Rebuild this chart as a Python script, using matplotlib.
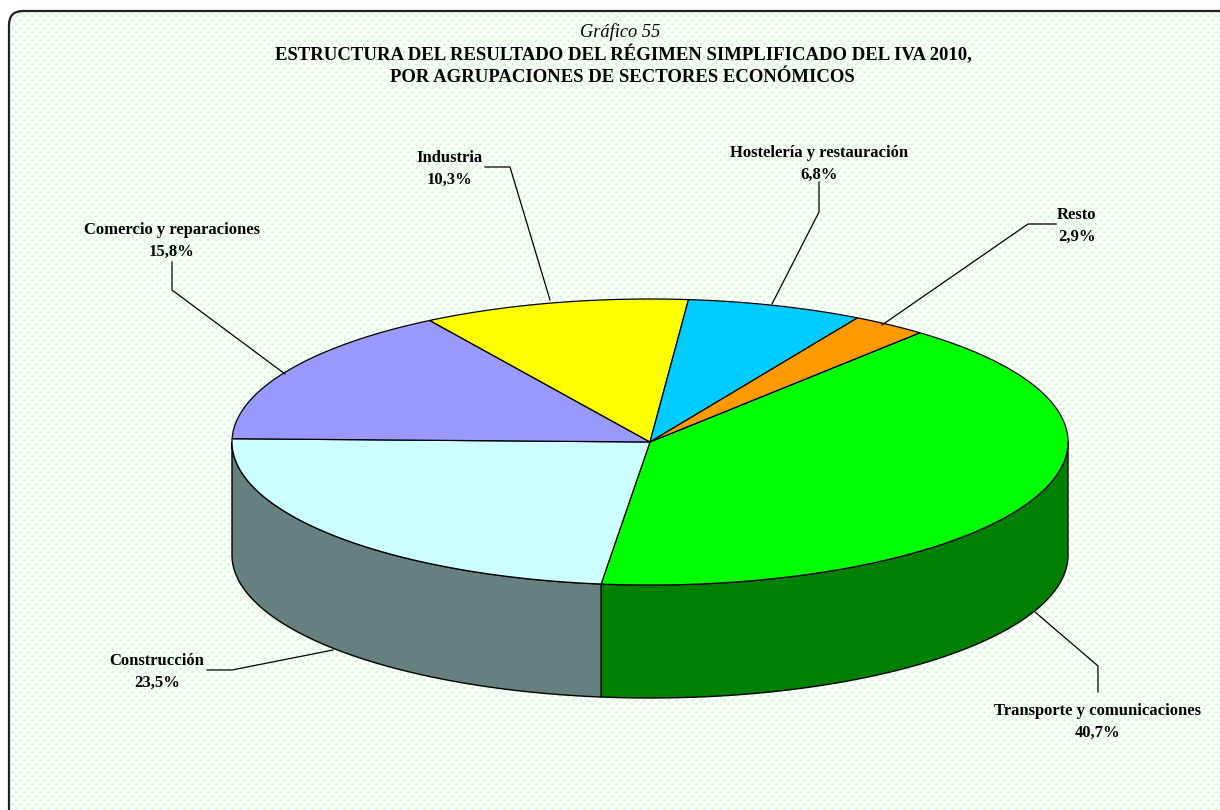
# Grafico 55 - IVA 2010, pseudo 3D pie
import numpy as np
import matplotlib
matplotlib.use('Agg')
import matplotlib.pyplot as plt
from matplotlib.patches import Polygon, FancyBboxPatch

# Data
labels = ['Transporte y comunicaciones', 'Construcción', 'Comercio y reparaciones',
          'Industria', 'Hostelería y restauración', 'Resto']
values = [40.7, 23.5, 15.8, 10.3, 6.8, 2.9]
values_txt = ['40,7%', '23,5%', '15,8%', '10,3%', '6,8%', '2,9%']
top_colors = ['#00FF00', '#CCFFFF', '#9999FF', '#FFFF00', '#00CCFF', '#FF9900']
side_colors = ['#008000', '#668080', None, None, None, None]

# Label centres and leader lines, in pixels
label_pos = [(1098, 722), (157, 672), (172, 241), (449, 169), (819, 164), (1077, 226)]
leaders = [[(1098, 692), (1098, 666), (1035, 612)],
           [(207, 670), (232, 670), (333, 650)],
           [(172, 262), (172, 290), (285, 374)],
           [(485, 167), (510, 167), (550, 300)],
           [(819, 182), (819, 212), (772, 304)],
           [(1056, 224), (1028, 224), (882, 325)]]

# Pie geometry
cx, cy = 650, 442
rx, ry = 418, 143
depth = 113
start = 49.8

W, H = 1220, 810
plt.rcParams['font.family'] = ['Liberation Serif', 'DejaVu Serif']

fig = plt.figure(figsize=(W / 100, H / 100), dpi=100)
ax = fig.add_axes([0, 0, 1, 1])
ax.set_xlim(0, W)
ax.set_ylim(H, 0)
ax.axis('off')

# Frame with dotted background
frame = FancyBboxPatch((9, 11), W + 40, H + 40, boxstyle='round,pad=0,rounding_size=14',
                       fc='white', ec='none', zorder=1)
ax.add_patch(frame)
gx, gy = np.meshgrid(np.arange(0, W, 8), np.arange(0, H, 8))
dots = np.c_[np.r_[gx.ravel(), gx.ravel() + 4], np.r_[gy.ravel(), gy.ravel() + 4]]
bg = ax.scatter(dots[:, 0], dots[:, 1], s=6, color='#D0FFD0', lw=0, zorder=1.5)
bg.set_clip_path(frame)
ax.add_patch(FancyBboxPatch((9, 11), W + 40, H + 40, boxstyle='round,pad=0,rounding_size=14',
                            fc='none', ec='#222222', lw=1.6, zorder=2))


def rim(a0, a1, n=200):
    t = np.radians(np.linspace(a0, a1, n))
    return np.c_[cx + rx * np.cos(t), cy - ry * np.sin(t)]


# Slices run clockwise from the start angle
angles = start - np.cumsum([0] + values) * 3.6

# Walls, only the front half is visible
for i in range(len(values)):
    lo, hi = min(angles[i], 0), max(angles[i + 1], -180)
    if side_colors[i] is None or lo <= hi:
        continue
    edge = rim(lo, hi)
    wall = np.r_[edge, (edge + [0, depth])[::-1]]
    ax.add_patch(Polygon(wall, closed=True, fc=side_colors[i], ec='black', lw=1.0, zorder=3))

# Top faces
for i in range(len(values)):
    poly = np.r_[[[cx, cy]], rim(angles[i], angles[i + 1])]
    ax.add_patch(Polygon(poly, closed=True, fc=top_colors[i], ec='black', lw=0.9, zorder=4))

# Labels and leaders
for i in range(len(values)):
    x, y = label_pos[i]
    ax.text(x, y, labels[i] + '\n' + values_txt[i], ha='center', va='center', ma='center',
            fontsize=12, fontweight='bold', linespacing=1.5, zorder=6)
    pts = np.array(leaders[i])
    ax.plot(pts[:, 0], pts[:, 1], color='black', lw=0.9, zorder=5)

# Titles
ax.text(620, 32, 'Gráfico 55', ha='center', va='center', fontsize=13.2, style='italic', zorder=6)
ax.text(623, 55, 'ESTRUCTURA DEL RESULTADO DEL RÉGIMEN SIMPLIFICADO DEL IVA 2010,',
        ha='center', va='center', fontsize=13.5, fontweight='bold', zorder=6)
ax.text(622, 78, 'POR AGRUPACIONES DE SECTORES ECONÓMICOS',
        ha='center', va='center', fontsize=13.5, fontweight='bold', zorder=6)

fig.savefig('out.png', dpi=100)
